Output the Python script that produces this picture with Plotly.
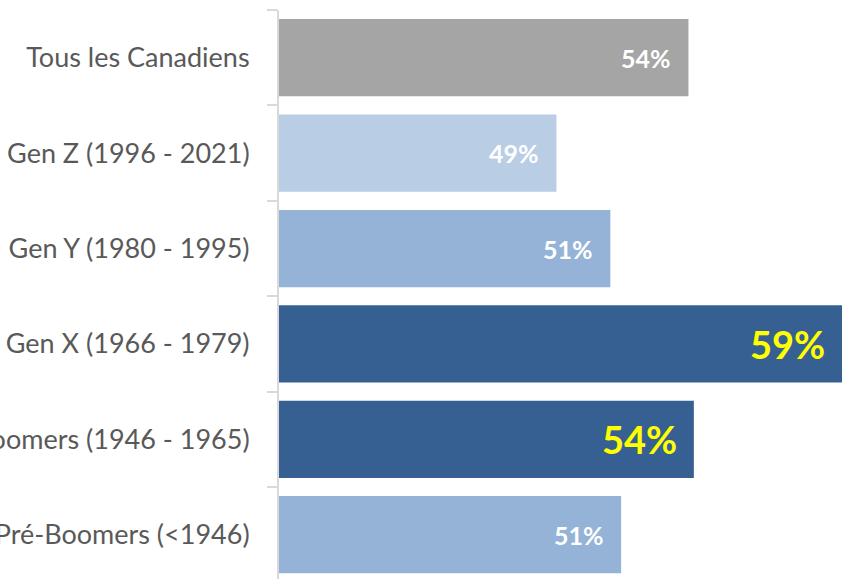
import plotly.graph_objects as go

categories = ["Tous les Canadiens", "Gen Z (1996 - 2021)", "Gen Y (1980 - 1995)",
              "Gen X (1966 - 1979)", "Boomers (1946 - 1965)", "Pré-Boomers (<1946)"]
values = [53.7, 48.8, 50.8, 59.4, 53.9, 51.2]
labels = ["54%", "49%", "51%", "59%", "54%", "51%"]
colors = ["#A5A5A5", "#B9CDE5", "#95B3D7", "#366092", "#366092", "#95B3D7"]
label_colors = ["#FFFFFF", "#FFFFFF", "#FFFFFF", "#FFFF00", "#FFFF00", "#FFFFFF"]
label_sizes = [25, 25, 25, 38, 38, 25]

fig = go.Figure(go.Bar(
    y=categories, x=values, orientation="h",
    marker=dict(color=colors, line=dict(width=0)),
    hoverinfo="skip",
))

for c, v, t, col, sz in zip(categories, values, labels, label_colors, label_sizes):
    fig.add_annotation(x=v, y=c, xref="x", yref="y", text=f"<b>{t}</b>",
                       showarrow=False, xanchor="right", yanchor="middle",
                       xshift=-15, font=dict(family="Lato", size=sz, color=col))

fig.update_layout(
    width=842, height=579,
    margin=dict(l=279, r=0, t=10, b=0, pad=0, autoexpand=False),
    paper_bgcolor="white", plot_bgcolor="white",
    bargap=0.19, showlegend=False,
    font=dict(family="Lato", color="#595959"),
)
fig.update_xaxes(range=[38.5, 59.4], visible=False, showgrid=False, zeroline=False,
                 automargin=False)
fig.update_yaxes(
    categoryorder="array", categoryarray=categories,
    range=[5.464, -0.5], showgrid=False, zeroline=False, automargin=False,
    showline=True, linecolor="#D9D9D9", linewidth=2,
    ticks="outside", tickson="boundaries", ticklen=10, tickcolor="#D9D9D9", tickwidth=2,
    tickfont=dict(family="Lato", size=27, color="#595959"),
    ticklabelstandoff=22,
)

fig.write_html("out.html", config={"displayModeBar": False},
               post_script="document.body.style.margin='0';document.body.style.overflow='hidden';")
